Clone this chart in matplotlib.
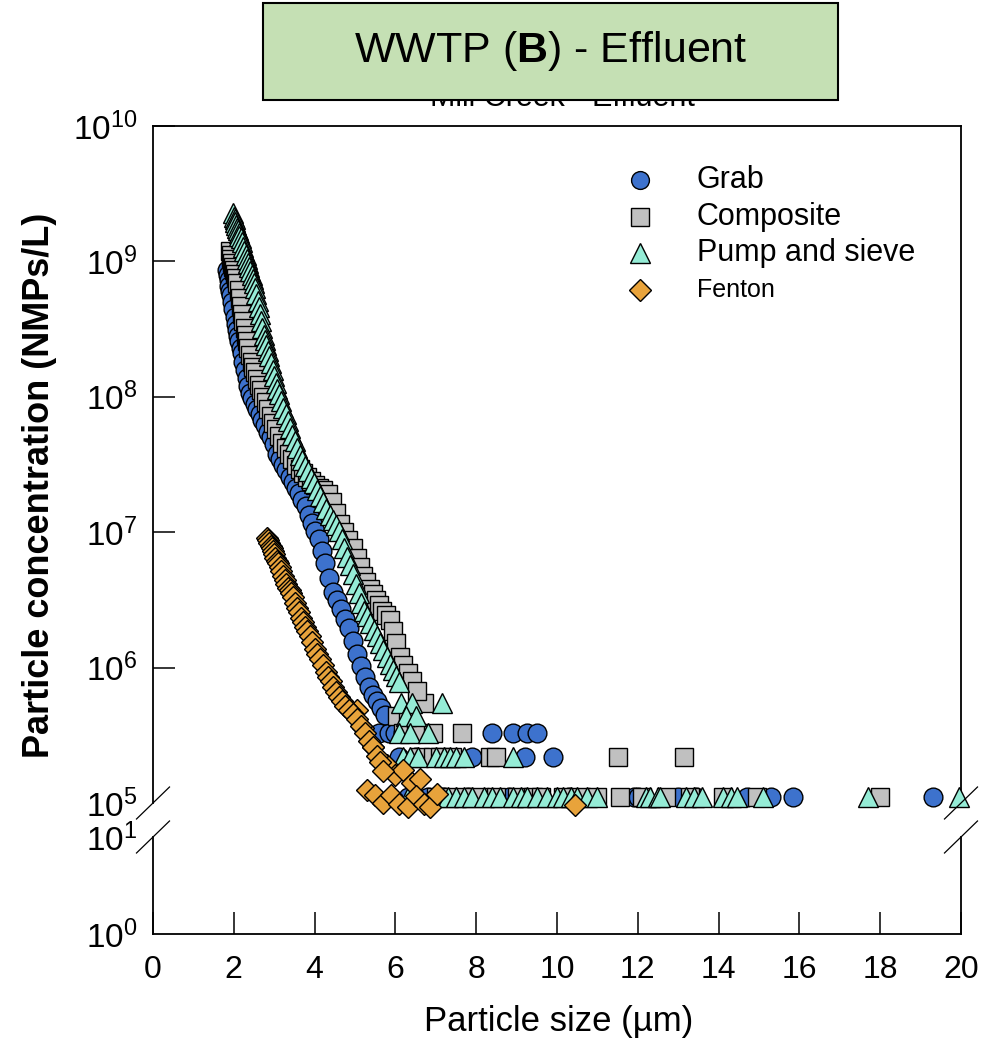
import numpy as np
import matplotlib
matplotlib.use("Agg")
import matplotlib.pyplot as plt
from matplotlib.lines import Line2D
from matplotlib.patches import Rectangle
from matplotlib.ticker import FixedLocator, FuncFormatter, NullLocator
from matplotlib import font_manager

plt.rcParams['font.family'] = ['Liberation Sans', 'DejaVu Sans']
plt.rcParams['mathtext.fontset'] = 'custom'
plt.rcParams['mathtext.rm'] = 'Liberation Sans'
plt.rcParams['mathtext.bf'] = 'Liberation Sans:bold'
plt.rcParams['mathtext.it'] = 'Liberation Sans:italic'

names = {f.name for f in font_manager.fontManager.ttflist}
NARROW = 'Liberation Sans Narrow' if 'Liberation Sans Narrow' in names else 'Liberation Sans'

# ---- data (x in um, curve values as log10 of NMPs/L, tails in NMPs/L) ----
grab_x = [1.83, 1.85, 1.87, 1.89, 1.91, 1.93, 1.96, 1.99, 2.02, 2.05, 2.08, 2.11,
          2.14, 2.17, 2.20, 2.24, 2.28, 2.32, 2.36, 2.40, 2.46, 2.52, 2.58, 2.64,
          2.70, 2.77, 2.84, 2.91, 2.99, 3.07, 3.14, 3.22, 3.30, 3.38, 3.46, 3.54,
          3.62, 3.70, 3.78, 3.86, 3.94, 4.02, 4.10, 4.18, 4.26, 4.35, 4.45, 4.55,
          4.65, 4.75, 4.85, 4.95, 5.05, 5.15, 5.25, 5.35, 5.45, 5.55, 5.65, 5.75]
grab_log = [8.94, 8.90, 8.86, 8.82, 8.78, 8.75, 8.70, 8.65, 8.59, 8.54, 8.49, 8.45,
            8.41, 8.36, 8.32, 8.26, 8.20, 8.14, 8.08, 8.03, 7.99, 7.95, 7.91, 7.87,
            7.83, 7.79, 7.74, 7.70, 7.65, 7.58, 7.54, 7.50, 7.46, 7.41, 7.37, 7.33,
            7.29, 7.24, 7.19, 7.13, 7.07, 7.01, 6.95, 6.86, 6.77, 6.66, 6.56, 6.50,
            6.43, 6.36, 6.29, 6.20, 6.10, 6.01, 5.93, 5.86, 5.80, 5.75, 5.70, 5.65]
grab_tail_x = [5.6, 5.85, 6.0, 6.2, 8.4, 8.9, 9.25, 9.5,
               6.1, 6.5, 7.9, 9.2, 9.9,
               6.3, 6.8, 7.2, 7.8, 8.8, 10.3, 11.9, 12.0, 13.0, 13.45, 14.7, 15.3,
               15.85, 19.3]
grab_tail_y = [3.3e5] * 8 + [2.2e5] * 5 + [1.1e5] * 14

comp_x = [1.90, 1.92, 1.94, 1.96, 1.98, 2.00, 2.03, 2.06, 2.09, 2.12, 2.15, 2.18,
          2.21, 2.24, 2.27, 2.30, 2.33, 2.36, 2.40, 2.44, 2.48, 2.52, 2.57, 2.62,
          2.67, 2.73, 2.79, 2.85, 2.91, 2.98, 3.05, 3.12, 3.20, 3.28, 3.36, 3.45,
          3.54, 3.63, 3.72, 3.82, 3.92, 4.02, 4.12, 4.22, 4.32, 4.42, 4.52, 4.62,
          4.72, 4.83, 4.95, 5.04, 5.12, 5.20, 5.28, 5.36, 5.44, 5.52, 5.60, 5.68,
          5.76, 5.87, 5.94, 6.02, 6.11, 6.20, 6.30, 6.40, 6.53]
comp_log = [9.08, 9.05, 9.02, 8.99, 8.96, 8.94, 8.91, 8.88, 8.84, 8.79, 8.73, 8.67,
            8.61, 8.56, 8.51, 8.46, 8.41, 8.36, 8.31, 8.26, 8.22, 8.18, 8.13, 8.09,
            8.05, 8.00, 7.96, 7.91, 7.86, 7.81, 7.76, 7.71, 7.66, 7.62, 7.58, 7.54,
            7.50, 7.47, 7.44, 7.41, 7.38, 7.35, 7.33, 7.31, 7.28, 7.22, 7.14, 7.06,
            7.00, 6.94, 6.88, 6.81, 6.74, 6.68, 6.63, 6.58, 6.54, 6.50, 6.46, 6.42,
            6.39, 6.35, 6.27, 6.18, 6.08, 6.02, 5.96, 5.90, 5.83]
comp_tail_x = [6.7,
               6.04, 6.3,
               6.2, 6.5, 6.93, 7.65,
               6.6, 6.93, 7.1, 7.4, 8.35, 8.5, 11.5, 13.15,
               7.0, 7.3, 7.7, 8.1, 8.5, 9.0, 9.4, 9.6, 10.15, 10.6, 11.0, 11.55,
               12.1, 12.7, 13.3, 14.1, 14.95, 18.0]
comp_tail_y = [5.5e5] + [4.4e5] * 2 + [3.3e5] * 4 + [2.2e5] * 8 + [1.1e5] * 18

pump_x = [1.98, 2.00, 2.02, 2.04, 2.06, 2.08, 2.10, 2.12, 2.14, 2.17, 2.20, 2.23,
          2.26, 2.29, 2.32, 2.35, 2.38, 2.41, 2.44, 2.47, 2.50, 2.53, 2.56, 2.59,
          2.62, 2.65, 2.68, 2.71, 2.74, 2.77, 2.80, 2.84, 2.88, 2.92, 2.96, 3.00,
          3.04, 3.08, 3.13, 3.18, 3.23, 3.28, 3.33, 3.39, 3.45, 3.51, 3.57, 3.63,
          3.70, 3.77, 3.84, 3.91, 3.98, 4.05, 4.13, 4.21, 4.29, 4.37, 4.45, 4.53,
          4.61, 4.68, 4.74, 4.81, 4.88, 4.95, 5.02, 5.09, 5.16, 5.22, 5.30, 5.38,
          5.46, 5.54, 5.62, 5.70, 5.78, 5.86, 5.94, 6.02, 6.10]
pump_log = [9.36, 9.33, 9.31, 9.29, 9.27, 9.25, 9.23, 9.21, 9.19, 9.17, 9.14, 9.11,
            9.08, 9.05, 9.02, 8.99, 8.96, 8.93, 8.90, 8.87, 8.84, 8.80, 8.76, 8.71,
            8.66, 8.61, 8.56, 8.51, 8.46, 8.42, 8.38, 8.34, 8.30, 8.25, 8.20, 8.15,
            8.10, 8.06, 8.02, 7.97, 7.92, 7.87, 7.82, 7.77, 7.72, 7.67, 7.62, 7.57,
            7.53, 7.49, 7.45, 7.40, 7.36, 7.31, 7.27, 7.22, 7.17, 7.13, 7.09, 7.05,
            7.01, 6.95, 6.88, 6.82, 6.76, 6.69, 6.62, 6.55, 6.48, 6.42, 6.38, 6.33,
            6.28, 6.23, 6.18, 6.13, 6.08, 6.03, 5.98, 5.94, 5.89]
pump_tail_x = [6.15, 6.4, 7.15,
               6.25, 6.5,
               6.1, 6.35, 6.8,
               6.2, 6.35, 6.55, 7.0, 7.2, 7.35, 7.5, 7.7, 8.9,
               6.3, 6.6, 7.0, 7.3, 7.5, 7.7, 7.9, 8.2, 8.4, 8.6, 8.9, 9.1, 9.25,
               9.5, 9.75, 10.0, 10.15, 10.35, 10.5, 10.75, 11.0, 12.2, 12.3, 12.5,
               12.55, 13.2, 13.4, 13.6, 14.1, 14.3, 14.45, 15.1, 17.7, 19.95]
pump_tail_y = [5.5e5] * 3 + [4.4e5] * 2 + [3.3e5] * 3 + [2.2e5] * 9 + [1.1e5] * 34

fenton_x = [2.82, 2.85, 2.88, 2.91, 2.94, 2.97, 3.00, 3.03, 3.06, 3.10, 3.14, 3.18,
            3.22, 3.26, 3.30, 3.34, 3.38, 3.42, 3.47, 3.52, 3.57, 3.62, 3.67, 3.72,
            3.77, 3.82, 3.88, 3.94, 4.00, 4.06, 4.13, 4.20, 4.27, 4.34, 4.40, 4.46,
            4.53, 4.60, 4.68, 4.76, 4.85, 4.95, 5.05, 5.15, 5.25, 5.35, 5.45, 5.55,
            5.62, 5.70]
fenton_log = [6.96, 6.94, 6.92, 6.90, 6.88, 6.86, 6.84, 6.81, 6.79, 6.77, 6.74, 6.71,
              6.68, 6.65, 6.62, 6.59, 6.57, 6.55, 6.52, 6.48, 6.44, 6.41, 6.37, 6.34,
              6.30, 6.27, 6.23, 6.19, 6.14, 6.10, 6.06, 6.02, 5.97, 5.93, 5.90, 5.86,
              5.82, 5.78, 5.75, 5.72, 5.69, 5.66, 5.62, 5.57, 5.52, 5.46, 5.41, 5.35,
              5.30, 5.24]
fenton_tail_x = [5.05, 5.2, 5.45, 5.8, 6.0, 6.19, 6.4, 6.6, 5.3, 5.5, 5.7, 5.9,
                 6.1, 6.3, 6.5, 6.7, 6.86, 7.03, 10.45]
fenton_tail_y = [4.9e5, 3.6e5, 2.6e5, 1.9e5, 1.6e5, 1.75e5, 1.4e5, 1.5e5, 1.25e5,
                 1.15e5, 1.0e5, 1.15e5, 0.98e5, 0.94e5, 1.12e5, 0.98e5, 0.94e5,
                 1.17e5, 0.96e5]

labels = ['Grab', 'Composite', 'Pump and sieve', 'Fenton']
top_ticks = [1e5, 1e6, 1e7, 1e8, 1e9, 1e10]
bot_ticks = [1, 10]
x_ticks = list(range(0, 21, 2))

# ---- styles ----
styles = [
    dict(marker='o', ms=13.5, mfc='#3D72CD', zorder=3),
    dict(marker='s', ms=13.0, mfc='#C0C0C0', zorder=4),
    dict(marker='^', ms=14.5, mfc='#95ECD6', zorder=5),
    dict(marker='D', ms=11.5, mfc='#E8A33B', zorder=6),
]
series = [
    (grab_x, grab_log, grab_tail_x, grab_tail_y),
    (comp_x, comp_log, comp_tail_x, comp_tail_y),
    (pump_x, pump_log, pump_tail_x, pump_tail_y),
    (fenton_x, fenton_log, fenton_tail_x, fenton_tail_y),
]

W, H = 992, 1039
fig = plt.figure(figsize=(W / 100, H / 100), dpi=100)

L, R = 153, 961
top_t, top_b = 126, 803
bot_t, bot_b = 837, 934


def fx(px):
    return px / W


def fy(py):
    return 1 - py / H


ax_top = fig.add_axes([fx(L), fy(top_b), (R - L) / W, (top_b - top_t) / H])
ax_bot = fig.add_axes([fx(L), fy(bot_b), (R - L) / W, (bot_b - bot_t) / H], sharex=ax_top)

for (xc, lc, xt, yt), st in zip(series, styles):
    xs = list(xt) + list(xc)
    ys = list(yt) + list(10 ** np.array(lc))
    ax_top.plot(xs, ys, ls='none', marker=st['marker'], ms=st['ms'], mfc=st['mfc'],
                mec='black', mew=1.0, zorder=st['zorder'], clip_on=False)

ax_top.set_yscale('log')
ax_top.set_ylim(1e5, 1e10)
ax_bot.set_yscale('log')
ax_bot.set_ylim(1, 10)
ax_top.set_xlim(0, 20)

fmt = FuncFormatter(lambda v, p: r'$10^{%d}$' % round(np.log10(v)))
for ax, ticks in ((ax_top, top_ticks), (ax_bot, bot_ticks)):
    ax.yaxis.set_major_locator(FixedLocator(ticks))
    ax.yaxis.set_minor_locator(NullLocator())
    ax.yaxis.set_major_formatter(fmt)
    ax.tick_params(axis='y', which='major', direction='in', length=16, width=1.1,
                   pad=11, labelsize=24, right=False)
    for s in ax.spines.values():
        s.set_linewidth(1.3)

ax_top.spines['bottom'].set_visible(False)
ax_bot.spines['top'].set_visible(False)
ax_top.tick_params(axis='x', bottom=False, labelbottom=False, top=False)
ax_bot.tick_params(axis='y', length=0)
for t, v in zip(ax_top.yaxis.get_major_ticks(), top_ticks):
    if v == 1e5:
        t.tick1line.set_visible(False)

ax_bot.xaxis.set_major_locator(FixedLocator(x_ticks))
ax_bot.xaxis.set_minor_locator(NullLocator())
ax_bot.tick_params(axis='x', direction='in', length=16, width=1.1, pad=15, labelsize=23)
for lab in ax_bot.get_xticklabels():
    lab.set_fontfamily(NARROW)

# break marks
dx, dy = 16.5 / W, 16 / H
for x0 in (L, R):
    for y0 in (top_b, bot_t):
        fig.add_artist(Line2D([fx(x0) - dx, fx(x0) + dx], [fy(y0) - dy, fy(y0) + dy],
                              color='black', lw=0.9, transform=fig.transFigure))

# legend drawn by hand
leg_y = [180, 217, 253, 290]
leg_size = [22, 22, 22, 18]
for lab, st, py, fs in zip(labels, styles, leg_y, leg_size):
    fig.add_artist(Line2D([fx(640)], [fy(py)], ls='none', marker=st['marker'],
                          ms=st['ms'] * 0.95, mfc=st['mfc'], mec='black', mew=1.0,
                          transform=fig.transFigure))
    fig.text(fx(697), fy(py), lab, fontsize=fs, ha='left', va='center')

# axis labels
fig.text(fx(40), fy(485), 'Particle concentration (NMPs/L)', rotation=90,
         fontsize=26, fontweight='bold', ha='center', va='center')
fig.text(fx(559), fy(1022), 'Particle size (\u00b5m)', fontsize=25,
         family=NARROW, ha='center', va='center')

# old title hidden behind the green box
fig.text(fx(562), fy(106), 'Mill Creek - Effluent', fontsize=22,
         ha='center', va='baseline', zorder=1)
fig.add_artist(Rectangle((fx(263), fy(100)), (838 - 263) / W, 97 / H,
                         transform=fig.transFigure, facecolor='#C5E0B4',
                         edgecolor='black', lw=1.5, zorder=3))
fig.text(fx(551), fy(51), r'WWTP ($\mathbf{B}$) - Effluent', fontsize=31,
         ha='center', va='center', zorder=4)

fig.savefig('out.png', dpi=100)
